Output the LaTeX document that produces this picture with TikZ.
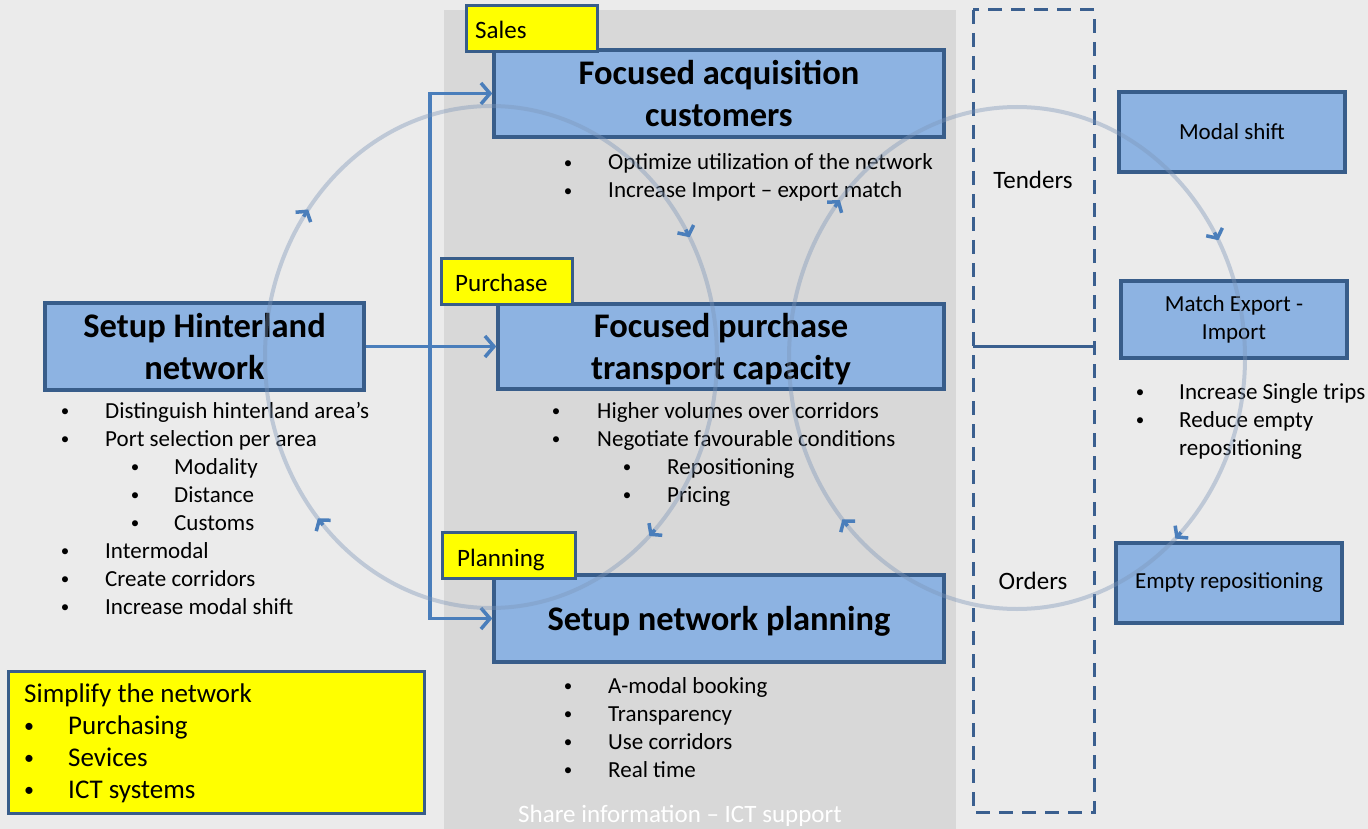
\documentclass[tikz,border=0pt]{standalone}
\usepackage{fontspec}
\setmainfont{Carlito}
\usetikzlibrary{arrows.meta}
\definecolor{bg}{RGB}{235,235,235}
\definecolor{panel}{RGB}{216,216,216}
\definecolor{boxfill}{RGB}{141,179,226}
\definecolor{boxline}{RGB}{56,93,138}
\definecolor{conncol}{RGB}{74,126,187}
\definecolor{ringcol}{RGB}{124,149,184}
\definecolor{dashcol}{RGB}{58,95,143}
\definecolor{tagyellow}{RGB}{255,255,0}
\tikzset{
  bluebox/.style={draw=boxline, line width=3.5pt, fill=boxfill, inner sep=0pt, align=center},
  titlebox/.style={bluebox, font=\fontsize{34.5}{42}\selectfont\bfseries},
  smallbox/.style={bluebox, font=\fontsize{23}{28}\selectfont},
  tagbox/.style={draw=boxline, line width=3pt, fill=tagyellow, inner sep=0pt},
  txt/.style={anchor=base west, inner sep=0pt, font=\fontsize{23}{28}\selectfont},
  bigtxt/.style={anchor=base west, inner sep=0pt, font=\fontsize{27}{32}\selectfont},
  bul/.style={anchor=base, inner sep=0pt, yshift=1.5pt, font=\fontsize{17}{20}\selectfont},
  bigbul/.style={anchor=base, inner sep=0pt, yshift=2pt, font=\fontsize{20}{24}\selectfont},
  tagtxt/.style={anchor=base west, inner sep=0pt, font=\fontsize{25}{30}\selectfont},
  midtxt/.style={anchor=base, inner sep=0pt, font=\fontsize{25}{30}\selectfont},
  connline/.style={draw=conncol, line width=3.5pt},
  connarrow/.style={connline, -{Straight Barb[length=9pt,width=21pt]}},
  ringline/.style={draw=ringcol, draw opacity=0.4, line width=4pt},
  ringarrow/.style={draw=conncol, line width=3.5pt, -{Straight Barb[length=7pt,width=18pt]}},
}
\newcommand\ringtip[4]{%
  \draw[ringarrow] ([shift={(#3+2:#4 and 251)}]#1,#2) arc[start angle=#3+2, end angle=#3, x radius=#4, y radius=251];}
\begin{document}
\begin{tikzpicture}[x=1pt, y=1pt]
\useasboundingbox (0,0) rectangle (1368,-829);
\fill[bg] (0,0) rectangle (1368,-829);
\fill[panel] (444,-10) rectangle (956,-829);
% dashed column
\draw[dashcol, line width=3pt, dash pattern=on 14pt off 9pt] (973,-10) rectangle (1094,-812);
\coordinate (tl) at (973,-346);
\coordinate (tr) at (1094,-346);
\draw[dashcol, line width=3pt] (tl) -- (tr);
\node[midtxt] (tenders) at (1033,-189) {Tenders};
\node[midtxt] (orders) at (1033,-589) {Orders};
\node[midtxt, text=white] (share) at (680,-822) {Share information – ICT support};
% boxes
\node[titlebox, minimum width=319, minimum height=87] (hint) at (204.5,-346.5) {Setup Hinterland\\network};
\node[titlebox, minimum width=450, minimum height=87] (acq) at (719,-93.5) {Focused acquisition\\customers};
\node[titlebox, minimum width=446, minimum height=85, text depth=0pt] (pur) at (721,-346.5) {Focused purchase\\transport capacity};
\node[titlebox, minimum width=450, minimum height=87, text depth=0pt] (plan) at (719,-618.5) {Setup network planning};
\node[smallbox, minimum width=226, minimum height=80] (modal) at (1232,-132) {Modal shift};
\node[smallbox, minimum width=226, minimum height=77] (match) at (1234,-319.5) {Match Export -\\Import};
\node[smallbox, minimum width=226, minimum height=80] (empty) at (1229,-583) {Empty repositioning};
% tags
\node[tagbox, minimum width=131, minimum height=46] (salestag) at (531.5,-29) {};
\node[tagtxt] (salestxt) at (475,-39) {Sales};
\node[tagbox, minimum width=131, minimum height=46] (purtag) at (506.5,-281) {};
\node[tagtxt] (purtxt) at (455,-291) {Purchase};
\node[tagbox, minimum width=133, minimum height=46] (plantag) at (508.5,-555) {};
\node[tagtxt] (plantxt) at (457,-566) {Planning};
\node[tagbox, minimum width=416, minimum height=142] (simp) at (216,-742) {};
% bullet lists
\node[bigtxt] (simp0) at (24,-702) {Simplify the network};
\foreach \t [count=\i] in {Purchasing, Sevices, ICT systems} {
  \node[bigbul] (simpb\i) at (29,{-702-32*\i}) {•};
  \node[bigtxt] (simp\i) at (68,{-702-32*\i}) {\t};
}
\foreach \t [count=\i] in {Optimize utilization of the network, Increase Import – export match} {
  \node[bul] (acqb\i) at (568,{-142-28*\i}) {•};
  \node[txt] (acqt\i) at (608,{-142-28*\i}) {\t};
}
\foreach \t [count=\i] in {Higher volumes over corridors, Negotiate favourable conditions} {
  \node[bul] (purb\i) at (556,{-390-28*\i}) {•};
  \node[txt] (purt\i) at (597,{-390-28*\i}) {\t};
}
\foreach \t [count=\i] in {Repositioning, Pricing} {
  \node[bul] (pursb\i) at (627,{-446-28*\i}) {•};
  \node[txt] (purst\i) at (667,{-446-28*\i}) {\t};
}
\foreach \t [count=\i] in {A-modal booking, Transparency, Use corridors, Real time} {
  \node[bul] (planb\i) at (568,{-665-28*\i}) {•};
  \node[txt] (plant\i) at (608,{-665-28*\i}) {\t};
}
\foreach \t [count=\i] in {Distinguish hinterland area’s, Port selection per area} {
  \node[bul] (hintb\i) at (65,{-390-28*\i}) {•};
  \node[txt] (hintt\i) at (105,{-390-28*\i}) {\t};
}
\foreach \t [count=\i] in {Modality, Distance, Customs} {
  \node[bul] (hintsb\i) at (135,{-446-28*\i}) {•};
  \node[txt] (hintst\i) at (174,{-446-28*\i}) {\t};
}
\foreach \t [count=\i] in {Intermodal, Create corridors, Increase modal shift} {
  \node[bul] (hintcb\i) at (65,{-530-28*\i}) {•};
  \node[txt] (hintct\i) at (105,{-530-28*\i}) {\t};
}
\node[bul] (rb1) at (1140,-399) {•};
\node[txt] (rt1) at (1179,-399) {Increase Single trips};
\node[bul] (rb2) at (1140,-427) {•};
\node[txt] (rt2) at (1179,-427) {Reduce empty};
\node[txt] (rt3) at (1179,-455) {repositioning};
% connectors
\coordinate (j) at (430,-346.5);
\draw[connline] (hint.east) -- (j);
\draw[connarrow] (j) |- (acq.west);
\draw[connarrow] (j) -- (pur.west);
\draw[connarrow] (j) |- (plan.west);
% rings
\coordinate (lc) at (491,-357);
\coordinate (rc) at (1017,-358);
\draw[ringline] (lc) ellipse [x radius=226, y radius=251];
\draw[ringline] (rc) ellipse [x radius=228, y radius=251];
\ringtip{491}{-357}{144}{226}
\ringtip{491}{-357}{28.5}{226}
\ringtip{491}{-357}{-45.5}{226}
\ringtip{491}{-357}{220}{226}
\ringtip{1017}{-358}{141}{228}
\ringtip{1017}{-358}{28}{228}
\ringtip{1017}{-358}{-46}{228}
\ringtip{1017}{-358}{220}{228}
\end{tikzpicture}
\end{document}
